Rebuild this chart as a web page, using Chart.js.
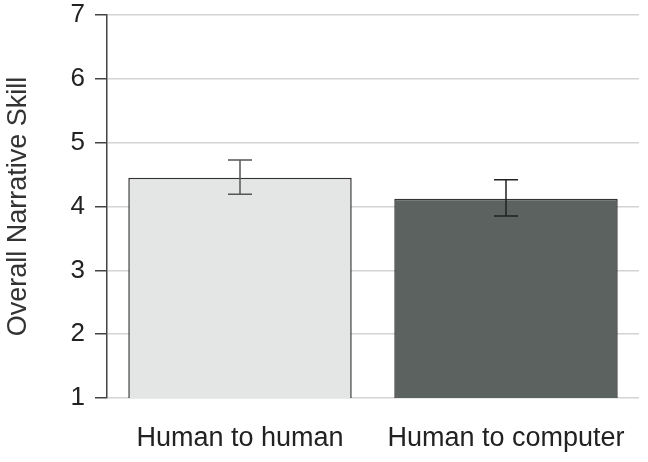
<!DOCTYPE html>
<html>
<head>
<meta charset="utf-8">
<script src="https://cdn.jsdelivr.net/npm/chart.js@4.4.0/dist/chart.umd.min.js"></script>
<style>
  html, body { margin: 0; padding: 0; background: #fff; }
  #wrap { width: 648px; height: 462px; }
</style>
</head>
<body>
<div id="wrap"><canvas id="barChart"></canvas></div>
<script>
// data
const groups = ['Human to human', 'Human to computer'];
const skill = [4.45, 4.12];
const errLow = [4.19, 3.85];
const errHigh = [4.73, 4.42];
const yTicks = [1, 2, 3, 4, 5, 6, 7];

const barFill = ['#e4e5e5', '#5b6260'];
const barLine = ['#333333', '#333333'];
const whiskerColor = ['#555555', '#222222'];

// error bars, drawn after everything so they sit on top of the grid
const errorBars = {
  id: 'errorBars',
  afterDraw(chart) {
    const ctx = chart.ctx;
    const x = chart.scales.x;
    const y = chart.scales.y;
    ctx.save();
    ctx.lineWidth = 1.5;
    groups.forEach((g, i) => {
      const cx = x.getPixelForValue(i);
      const top = y.getPixelForValue(errHigh[i]);
      const bot = y.getPixelForValue(errLow[i]);
      ctx.strokeStyle = whiskerColor[i];
      ctx.beginPath();
      ctx.moveTo(cx, top); ctx.lineTo(cx, bot);
      ctx.moveTo(cx - 12, top); ctx.lineTo(cx + 12, top);
      ctx.moveTo(cx - 12, bot); ctx.lineTo(cx + 12, bot);
      ctx.stroke();
    });
    ctx.restore();
  }
};

new Chart(document.getElementById('barChart'), {
  type: 'bar',
  data: {
    labels: groups,
    datasets: [{
      label: 'Overall Narrative Skill',
      data: skill,
      backgroundColor: barFill,
      borderColor: barLine,
      borderWidth: 1.5,
      borderSkipped: 'bottom',
      barPercentage: 0.84,
      categoryPercentage: 1
    }]
  },
  options: {
    responsive: true,
    maintainAspectRatio: false,
    animation: false,
    layout: { padding: { top: 0, right: 9, bottom: 0, left: 0 } },
    plugins: {
      legend: { display: false },
      tooltip: { enabled: false }
    },
    scales: {
      x: {
        grid: { display: false },
        border: { display: false },
        ticks: {
          color: '#222',
          padding: 16,
          font: { family: 'Liberation Sans', size: 27 }
        },
        afterFit(scale) { scale.height = 64; }
      },
      y: {
        min: 1,
        max: 7,
        z: 1,
        afterBuildTicks(scale) { scale.ticks = yTicks.map(v => ({ value: v })); },
        grid: {
          color: '#d3d3d3',
          lineWidth: 1.5,
          tickColor: '#444',
          tickLength: 12
        },
        border: { display: true, color: '#444', width: 1.5 },
        ticks: {
          color: '#222',
          padding: 10,
          font: { family: 'Liberation Sans', size: 26 }
        },
        title: {
          display: true,
          text: 'Overall Narrative Skill',
          color: '#333',
          padding: { top: 2, bottom: 0 },
          font: { family: 'Liberation Sans', size: 27 }
        },
        afterFit(scale) {
          scale.width = 107;
          scale.paddingTop = 15;
          scale.paddingBottom = 15;
        }
      }
    }
  },
  plugins: [errorBars]
});
</script>
</body>
</html>
